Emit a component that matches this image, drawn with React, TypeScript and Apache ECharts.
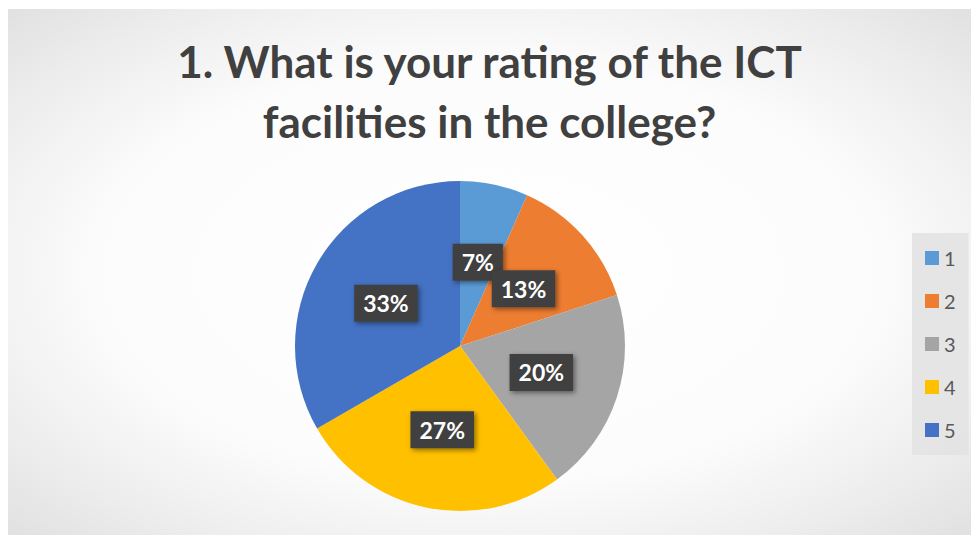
import React, { useEffect, useRef } from "react";
import * as echarts from "echarts";

const titleText = "1. What is your rating of the ICT\nfacilities in the college?";
const categories = ["1", "2", "3", "4", "5"];
const counts = [1, 2, 3, 4, 5];
const colors = ["#5B9BD5", "#ED7D31", "#A5A5A5", "#FFC000", "#4472C4"];

export default function App() {
  const ref = useRef<HTMLDivElement>(null);
  useEffect(() => {
    if (!ref.current) return;
    const chart = echarts.init(ref.current, undefined, { renderer: "svg" });
    chart.setOption({
      animation: false,
      backgroundColor: {
        type: "radial",
        x: 0.5,
        y: 0.5,
        r: 1.05,
        colorStops: [
          { offset: 0, color: "#ffffff" },
          { offset: 0.38, color: "#fcfcfc" },
          { offset: 0.55, color: "#ededed" },
          { offset: 0.8, color: "#d4d4d4" },
          { offset: 1, color: "#c0c0c0" },
        ],
      },
      title: {
        text: titleText,
        left: "center",
        top: 17,
        textStyle: {
          fontFamily: "Lato",
          fontWeight: "bold",
          fontSize: 44,
          lineHeight: 60,
          color: "#404040",
        },
      },
      legend: {
        orient: "vertical",
        left: 904,
        top: 224,
        data: categories,
        icon: "rect",
        itemWidth: 14,
        itemHeight: 14,
        itemGap: 23,
        padding: [15, 13, 15, 13],
        backgroundColor: "rgba(228,228,228,0.95)",
        textStyle: { fontFamily: "Lato", fontSize: 20, color: "#595959" },
      },
      series: [
        {
          type: "pie",
          center: [452, 337],
          radius: [0, 165],
          startAngle: 90,
          clockwise: true,
          avoidLabelOverlap: false,
          labelLayout: { hideOverlap: false },
          data: categories.map((c, i) => ({
            name: c,
            value: counts[i],
            itemStyle: { color: colors[i] },
          })),
          label: {
            show: true,
            position: "inside",
            formatter: (p: any) => Math.round(p.percent) + "%",
            fontFamily: "Lato",
            fontWeight: "bold",
            fontSize: 23,
            color: "#ffffff",
            backgroundColor: "#404040",
            padding: [8, 9, 6, 9],
            shadowColor: "rgba(0,0,0,0.45)",
            shadowBlur: 5,
            shadowOffsetX: 2,
            shadowOffsetY: 2,
          },
          labelLine: { show: false },
          emphasis: { disabled: true },
        },
      ],
    });
    return () => chart.dispose();
  }, []);
  return (
    <div style={{ position: "absolute", left: 0, top: 0, width: 971, height: 535, background: "#ffffff" }}>
      <div ref={ref} style={{ position: "absolute", left: 8, top: 9, width: 963, height: 526 }} />
    </div>
  );
}
